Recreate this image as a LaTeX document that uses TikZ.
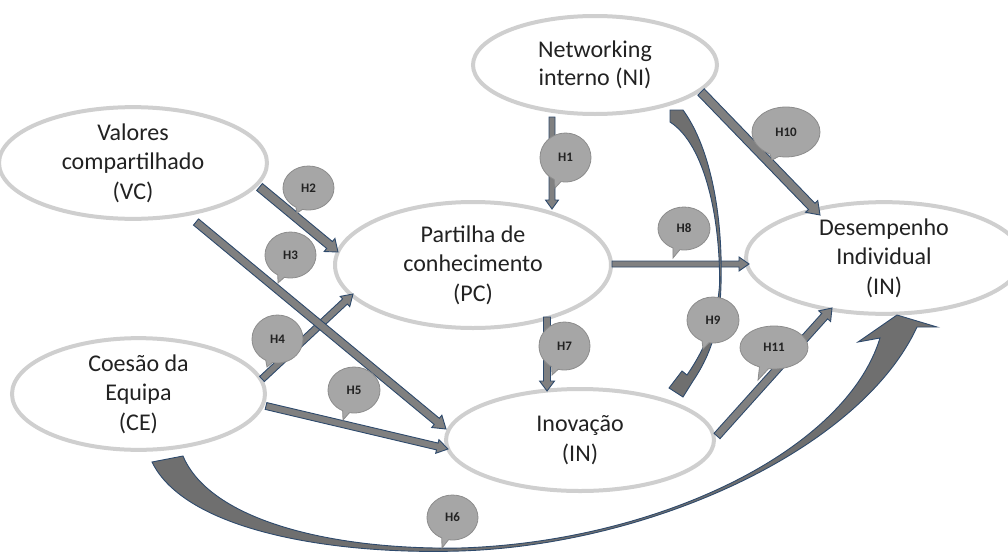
\documentclass[tikz,border=0pt]{standalone}
\usepackage{fontspec}
\setmainfont{Carlito}
\usetikzlibrary{calc,shapes.geometric,shapes.callouts}

\definecolor{ringgray}{HTML}{CFCFCF}
\definecolor{arrowfill}{HTML}{808080}
\definecolor{curvefill}{HTML}{6F6F6F}
\definecolor{arrowedge}{HTML}{2E4A6C}
\definecolor{tagfill}{HTML}{A6A6A6}
\definecolor{tagedge}{HTML}{8C8C8C}
\definecolor{inktext}{HTML}{222222}

% straight block arrow: [options]{start}{tip}{shaft half-width}{head half-width}{head length}
\newcommand\blockarrow[6][]{%
  \coordinate (bas) at #2;
  \coordinate (bae) at #3;
  \coordinate (bab) at ($(bae)!#6!(bas)$);
  \filldraw[arrowbody,#1]
    ($(bas)!#4!90:(bae)$) -- ($(bab)!#4!90:(bae)$) -- ($(bab)!#5!90:(bae)$)
    -- (bae)
    -- ($(bab)!#5!-90:(bae)$) -- ($(bab)!#4!-90:(bae)$) -- ($(bas)!#4!-90:(bae)$) -- cycle;
}

\tikzset{
  construct/.style={ellipse, draw=ringgray, line width=4pt, fill=white, inner sep=0pt,
    align=center, text=inktext, font=\fontsize{24}{29.5}\selectfont},
  tag/.style={ellipse callout, draw=tagedge, line width=0.8pt, fill=tagfill, inner sep=0pt,
    text=inktext, font=\fontsize{13}{14}\selectfont\bfseries, callout pointer arc=16},
  arrowbody/.style={draw=arrowedge, fill=arrowfill, line width=0.9pt, line join=miter},
  curvebody/.style={draw=arrowedge, fill=curvefill, line width=0.9pt, line join=miter},
}

\begin{document}
\begin{tikzpicture}[x=1pt,y=-1pt]
\useasboundingbox (0,0) rectangle (1008,554);

% constructs
\node[construct, minimum width=244pt, minimum height=98pt,
      font=\fontsize{24}{28}\selectfont] (NI) at (595,65) {Networking\\interno (NI)};
\node[construct, minimum width=268pt, minimum height=110pt] (VC) at (133,163) {Valores\\compartilhado\\(VC)};
\node[construct, minimum width=276pt, minimum height=126pt] (PC) at (473,265) {Partilha de\\conhecimento\\(PC)};
\node[construct, minimum width=276pt, minimum height=100pt] (DI) at (884,258) {Desempenho\\Individual\\(IN)};
\node[construct, minimum width=253pt, minimum height=94pt] (CE) at (138.5,394) {Coesão da\\Equipa\\(CE)};
\node[construct, minimum width=268pt, minimum height=102pt] (IV) at (580,440) {Inovação\\(IN)};

% straight hypothesis arrows
\blockarrow{($(NI)+(-43,52)$)}{($(PC)+(79,-56)$)}{3pt}{6.5pt}{9pt}
\blockarrow{($(PC)+(74,52)$)}{($(IV)+(-33,-49)$)}{3.5pt}{7.5pt}{10pt}
\blockarrow{($(VC)+(126.5,24)$)}{($(PC)+(-135,-13)$)}{4.5pt}{8.5pt}{11pt}
\blockarrow{($(CE)+(123.5,-15)$)}{($(PC)+(-120,29)$)}{3.5pt}{7pt}{11pt}
\blockarrow{($(VC)+(63,59)$)}{($(IV)+(-134,-11)$)}{4pt}{8pt}{12pt}
\blockarrow{($(CE)+(127.5,12)$)}{($(IV)+(-132,9)$)}{3.5pt}{7pt}{11pt}
\blockarrow{($(PC)+(139,-1)$)}{($(DI)+(-135,6)$)}{3pt}{7pt}{10pt}
\blockarrow{($(NI)+(106,27)$)}{($(DI)+(-64,-43)$)}{4.5pt}{8.5pt}{12pt}
\blockarrow{($(IV)+(137,-4)$)}{($(DI)+(-52,50)$)}{4pt}{8pt}{11pt}

% H9: curved arrow from NI down to IV
\filldraw[curvebody] (670,110) -- (683,110)
  .. controls (712,150) and (723,220) .. (721,285)
  .. controls (720,320) and (714,350) .. (693,381)
  -- (683,397) -- (669,388) -- (682,371) -- (687,375)
  .. controls (706,347) and (717,320) .. (719.5,285)
  .. controls (720.5,222) and (706,145) .. (670,122) -- cycle;

% H6: wide curved arrow from CE round to DI
\filldraw[curvebody] (152,462)
  .. controls (185,530) and (330,555) .. (460,551)
  .. controls (650,545) and (860,450) .. (917,327)
  -- (937,327) -- (897,315) -- (858,342) -- (880,338)
  .. controls (845,452) and (655,542) .. (460,548)
  .. controls (330,550) and (210,520) .. (183,456) -- cycle;

% hypothesis labels
\node[tag, minimum width=51pt, minimum height=49pt, callout absolute pointer={(555,188)}] (t1) at (565.5,157.5) {H1};
\node[tag, minimum width=51pt, minimum height=44pt, callout absolute pointer={(297,213)}] (t2) at (308.5,188) {H2};
\node[tag, minimum width=51pt, minimum height=46pt, callout absolute pointer={(278,283)}] (t3) at (290.5,255) {H3};
\node[tag, minimum width=51pt, minimum height=48pt, callout absolute pointer={(267,367)}] (t4) at (277.5,339) {H4};
\node[tag, minimum width=52pt, minimum height=46pt, callout absolute pointer={(343,420)}] (t5) at (354,390) {H5};
\node[tag, minimum width=51pt, minimum height=45pt, callout absolute pointer={(442,548)}] (t6) at (452.5,517.5) {H6};
\node[tag, minimum width=51pt, minimum height=48pt, callout absolute pointer={(552,375)}] (t7) at (564.5,346) {H7};
\node[tag, minimum width=52pt, minimum height=43pt, callout absolute pointer={(673,258)}] (t8) at (684,228.5) {H8};
\node[tag, minimum width=52pt, minimum height=46pt, callout absolute pointer={(703,349)}] (t9) at (713,320) {H9};
\node[tag, minimum width=68pt, minimum height=50pt, callout absolute pointer={(772,160)}] (t10) at (786,132) {H10};
\node[tag, minimum width=68pt, minimum height=43pt, callout absolute pointer={(758,380)}] (t11) at (774,347.5) {H11};
\end{tikzpicture}
\end{document}
